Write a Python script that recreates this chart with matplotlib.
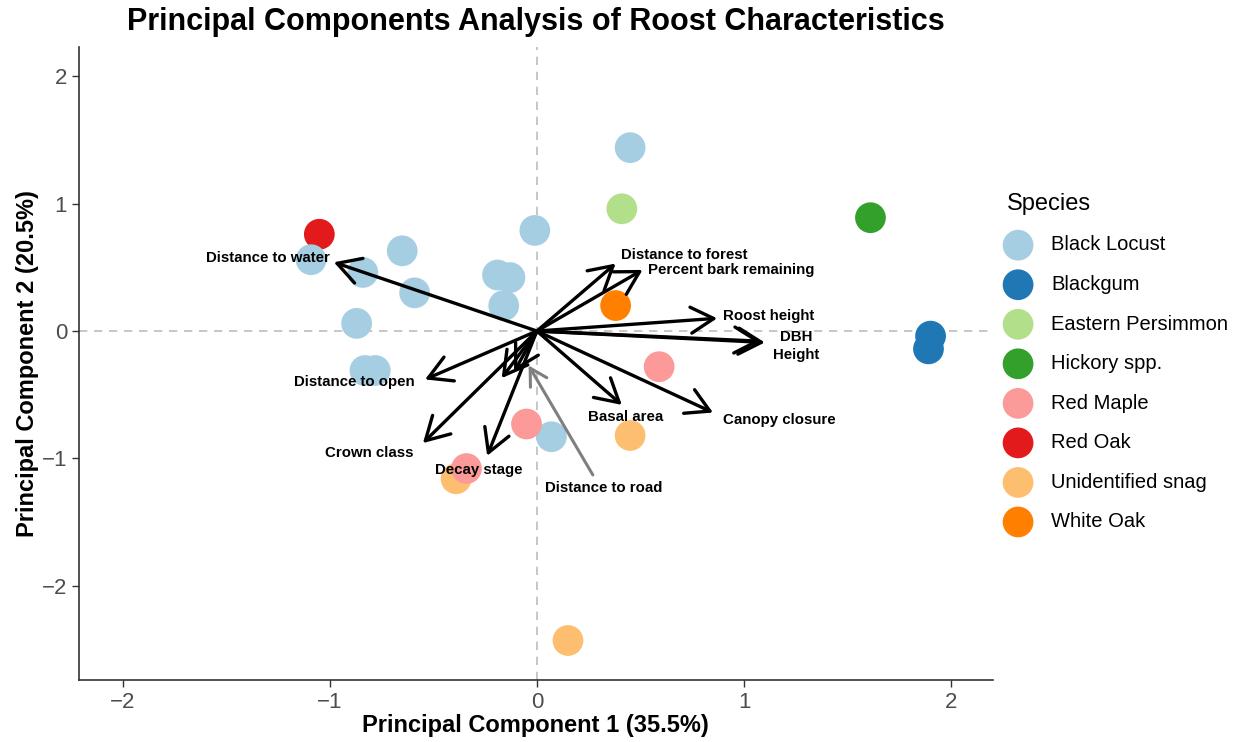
import matplotlib
matplotlib.use("Agg")
import matplotlib.pyplot as plt

plt.rcParams['font.family'] = ['Liberation Sans', 'DejaVu Sans']

# roost scores on the first two components
species = ['Black Locust', 'Blackgum', 'Eastern Persimmon', 'Hickory spp.',
           'Red Maple', 'Red Oak', 'Unidentified snag', 'White Oak']
colors = ['#A6CEE3', '#1F78B4', '#B2DF8A', '#33A02C',
          '#FB9A99', '#E31A1C', '#FDBF6F', '#FF7F00']

pc1 = {
    'Black Locust': [0.45, -0.01, -0.65, -1.09, -0.84, -0.59, -0.19, -0.13, -0.16, -0.87, -0.83, -0.78, 0.07],
    'Blackgum': [1.90, 1.89],
    'Eastern Persimmon': [0.41],
    'Hickory spp.': [1.61],
    'Red Maple': [0.59, -0.05, -0.34],
    'Red Oak': [-1.05],
    'Unidentified snag': [0.45, -0.39, 0.15],
    'White Oak': [0.38],
}
pc2 = {
    'Black Locust': [1.44, 0.79, 0.63, 0.56, 0.46, 0.30, 0.44, 0.42, 0.20, 0.06, -0.31, -0.31, -0.83],
    'Blackgum': [-0.04, -0.14],
    'Eastern Persimmon': [0.96],
    'Hickory spp.': [0.89],
    'Red Maple': [-0.28, -0.73, -1.08],
    'Red Oak': [0.76],
    'Unidentified snag': [-0.82, -1.16, -2.43],
    'White Oak': [0.20],
}
draw_order = ['Red Oak', 'Unidentified snag', 'Black Locust', 'Blackgum',
              'Eastern Persimmon', 'Hickory spp.', 'Red Maple', 'White Oak']

# variable loadings (arrow tips) and label positions
variables = ['Distance to water', 'Distance to open', 'Crown class', 'Decay stage',
             '', '', 'Basal area', 'Canopy closure', 'Roost height', 'DBH', 'Height',
             'Distance to forest', 'Percent bark remaining']
load_x = [-0.98, -0.54, -0.55, -0.24, -0.17, -0.11, 0.41, 0.85, 0.87, 1.10, 1.08, 0.38, 0.51]
load_y = [0.54, -0.38, -0.88, -0.98, -0.37, -0.32, -0.58, -0.64, 0.10, -0.09, -0.08, 0.53, 0.48]
lab_x = [-1.30, -0.88, -0.81, -0.28, None, None, 0.43, 1.17, 1.12, 1.25, 1.25, 0.71, 0.94]
lab_y = [0.57, -0.40, -0.96, -1.09, None, None, -0.675, -0.70, 0.12, -0.05, -0.19, 0.60, 0.48]

# supplementary variable (grey arrow)
road_from = (0.27, -1.13)
road_to = (-0.04, -0.27)
road_label = (0.32, -1.235)

fig = plt.figure(figsize=(12.44, 7.42), dpi=100)
ax = fig.add_axes([0.0635, 0.0836, 0.7345, 0.853])

ax.axhline(0, color='#BEBEBE', lw=1.2, ls=(0, (5, 4)), zorder=1)
ax.axvline(0, color='#BEBEBE', lw=1.2, ls=(0, (5, 4)), zorder=1)

for sp in draw_order:
    c = colors[species.index(sp)]
    ax.scatter(pc1[sp], pc2[sp], s=490, color=c, edgecolors='none', zorder=2)

# legend handles in alphabetical order
handles = []
for sp, c in zip(species, colors):
    handles.append(ax.scatter([], [], s=490, color=c, edgecolors='none', label=sp))

arrow_style = '->,head_length=1.5,head_width=0.85'
for name, x, y in zip(variables, load_x, load_y):
    ax.annotate('', xy=(x, y), xytext=(0, 0),
                arrowprops=dict(arrowstyle=arrow_style, color='black', lw=2.4,
                                shrinkA=0, shrinkB=0, mutation_scale=11),
                zorder=3)
for name, x, y in zip(variables, lab_x, lab_y):
    if name:
        ax.text(x, y, name, ha='center', va='center', fontsize=10.8,
                fontweight='bold', color='black', zorder=4)

ax.annotate('', xy=road_to, xytext=road_from,
            arrowprops=dict(arrowstyle=arrow_style, color='#7F7F7F', lw=2.2,
                            shrinkA=0, shrinkB=0, mutation_scale=8),
            zorder=3)
ax.text(road_label[0], road_label[1], 'Distance to road', ha='center', va='center',
        fontsize=10.8, fontweight='bold', color='black', zorder=4)

ax.set_xlim(-2.21, 2.20)
ax.set_ylim(-2.74, 2.23)
ax.set_xticks([-2, -1, 0, 1, 2])
ax.set_yticks([-2, -1, 0, 1, 2])
ax.set_xticklabels(['\u22122', '\u22121', '0', '1', '2'])
ax.set_yticklabels(['\u22122', '\u22121', '0', '1', '2'])
ax.tick_params(labelsize=16, labelcolor='#4D4D4D', color='#333333', length=5, width=1)
for s in ['top', 'right']:
    ax.spines[s].set_visible(False)
for s in ['left', 'bottom']:
    ax.spines[s].set_color('#333333')
    ax.spines[s].set_linewidth(1.2)

ax.set_xlabel('Principal Component 1 (35.5%)', fontsize=17, fontweight='bold', labelpad=1)
ax.set_ylabel('Principal Component 2 (20.5%)', fontsize=17, fontweight='bold', labelpad=2)
ax.set_title('Principal Components Analysis of Roost Characteristics',
             fontsize=22, fontweight='bold', pad=12)

leg = fig.legend(handles=handles, title='Species', loc='center left',
                 bbox_to_anchor=(0.803, 0.512), frameon=False, fontsize=14.5,
                 title_fontsize=17, labelspacing=1.02, handlelength=1.1,
                 handletextpad=1.1, borderaxespad=0)
leg._legend_box.align = 'left'

fig.savefig('out.png', dpi=100)
